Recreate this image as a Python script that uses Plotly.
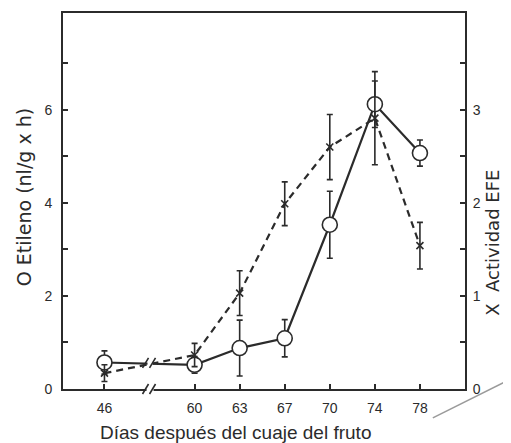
import plotly.graph_objects as go

# ---- data ----
days = ["46", "60", "63", "67", "70", "74", "78"]
axis_categories = ["46", "gap", "60", "63", "67", "70", "74", "78"]
etileno = [0.57, 0.52, 0.88, 1.09, 3.53, 6.12, 5.07]          # nl/g x h (left axis)
etileno_err = [0.25, 0.18, 0.60, 0.40, 0.72, 0.50, 0.28]
efe = [0.17, 0.365, 1.03, 1.99, 2.60, 2.91, 1.54]             # actividad EFE (right axis)
efe_err = [0.09, 0.125, 0.24, 0.235, 0.35, 0.50, 0.25]

left_ticks = [0, 1, 2, 3, 4, 5, 6, 7]
left_ticktext = ["0", "", "2", "", "4", "", "6", ""]
right_ticks = [0, 0.5, 1, 1.5, 2, 2.5, 3, 3.5]
right_ticktext = ["0", "", "1", "", "2", "", "3", ""]

INK = "#2b2b2b"
FONT = "Liberation Sans"
TICKFONT = dict(size=14, family=FONT, color=INK)
VTITLEFONT = dict(size=19, family="DejaVu Sans", color=INK)
RTITLEFONT = dict(size=18, family="DejaVu Sans", color=INK)
XTITLEFONT = dict(size=19, family=FONT, color=INK)

fig = go.Figure()

fig.add_trace(go.Scatter(
    x=days, y=efe, yaxis="y2", mode="lines+markers",
    line=dict(color=INK, width=2.2, dash="7px,5px"),
    marker=dict(symbol="x-thin", size=7, line=dict(color=INK, width=1.6), color=INK),
    error_y=dict(type="data", array=efe_err, visible=True, color=INK, thickness=1.6, width=3),
    showlegend=False,
))
fig.add_trace(go.Scatter(
    x=days, y=etileno, mode="lines+markers",
    line=dict(color=INK, width=2.2),
    marker=dict(symbol="circle", size=15, color="white", line=dict(color=INK, width=1.6)),
    error_y=dict(type="data", array=etileno_err, visible=True, color=INK, thickness=1.6, width=3),
    showlegend=False,
))

shapes = []
# axis break on x axis
shapes.append(dict(type="rect", xref="x", yref="paper", xsizemode="pixel", ysizemode="pixel",
                   xanchor=1, yanchor=0, x0=-3, x1=4, y0=-3, y1=3,
                   fillcolor="white", line=dict(width=0), layer="above"))
for dx in (-4, 3):
    shapes.append(dict(type="line", xref="x", yref="paper", xsizemode="pixel", ysizemode="pixel",
                       xanchor=1, yanchor=0, x0=dx - 3, x1=dx + 3, y0=-5, y1=5,
                       line=dict(color=INK, width=1.6), layer="above"))
# break marks on the data lines
shapes.append(dict(type="rect", xref="x", yref="y", xsizemode="pixel", ysizemode="pixel",
                   xanchor=1, yanchor=0.56, x0=-2, x1=3, y0=-6, y1=6,
                   fillcolor="white", line=dict(width=0), layer="above"))
for dx in (-4, 3):
    shapes.append(dict(type="line", xref="x", yref="y", xsizemode="pixel", ysizemode="pixel",
                       xanchor=1, yanchor=0.56, x0=dx - 3, x1=dx + 3, y0=-5, y1=5,
                       line=dict(color=INK, width=1.6), layer="above"))
# stray pen stroke in the scan
shapes.append(dict(type="line", xref="paper", yref="paper", x0=0.92, y0=-0.077, x1=1.12, y1=0.03,
                   line=dict(color="#9a9a9a", width=1.5)))

fig.update_layout(
    width=503, height=435,
    margin=dict(l=55, r=46, t=5, b=54, autoexpand=False),
    paper_bgcolor="white", plot_bgcolor="white",
    font=dict(family=FONT, color=INK, size=14),
    xaxis=dict(type="category", categoryorder="array", categoryarray=axis_categories,
               range=[-0.92, 8.0], tickmode="array", tickvals=days, ticktext=days,
               ticks="inside", ticklen=5, tickwidth=1.5, tickcolor=INK,
               showline=True, linecolor=INK, linewidth=2, mirror=True,
               showgrid=False, zeroline=False, ticklabelstandoff=5,
               tickfont=TICKFONT),
    yaxis=dict(range=[0, 8.08], tickmode="array", tickvals=left_ticks, ticktext=left_ticktext,
               ticks="inside", ticklen=5, tickwidth=1.5, tickcolor=INK,
               showline=True, linecolor=INK, linewidth=2,
               showgrid=False, zeroline=False, ticklabelstandoff=6,
               tickfont=TICKFONT),
    yaxis2=dict(range=[0, 4.04], overlaying="y", side="right",
                tickmode="array", tickvals=right_ticks, ticktext=right_ticktext,
                ticks="inside", ticklen=5, tickwidth=1.5, tickcolor=INK,
                showline=True, linecolor=INK, linewidth=2,
                showgrid=False, zeroline=False, ticklabelstandoff=3,
                tickfont=TICKFONT),
    shapes=shapes,
    annotations=[
        dict(text="O Etileno (nl/g x h)", textangle=-90, xref="paper", yref="paper",
             x=-0.097, y=0.51, xanchor="center", yanchor="middle",
             showarrow=False, font=VTITLEFONT),
        dict(text="X  Actividad EFE", textangle=-90, xref="paper", yref="paper",
             x=1.068, y=0.39, xanchor="center", yanchor="middle",
             showarrow=False, font=RTITLEFONT),
        dict(text="Días después del cuaje del fruto", xref="paper", yref="paper",
             x=0.428, y=-0.117, xanchor="center", yanchor="middle",
             showarrow=False, font=XTITLEFONT),
    ],
)

fig.write_html("out.html")
